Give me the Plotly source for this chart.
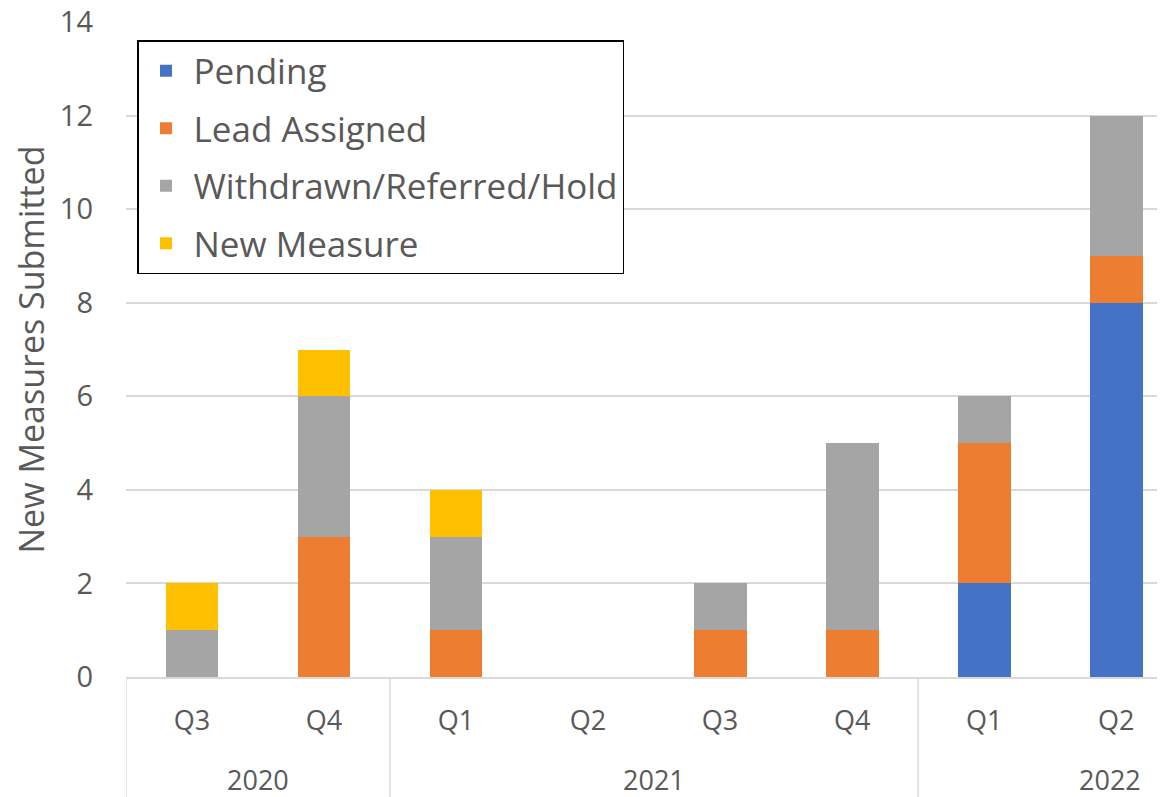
import plotly.graph_objects as go

quarters = ["Q3", "Q4", "Q1", "Q2", "Q3", "Q4", "Q1", "Q2"]
years = ["2020", "2021", "2022"]
year_pos = [0.5, 3.5, 6.95]
dividers = [-0.5, 1.5, 5.5]

pending = [0, 0, 0, 0, 0, 0, 2, 8]
lead_assigned = [0, 3, 1, 0, 1, 1, 3, 1]
withdrawn = [1, 3, 2, 0, 1, 4, 1, 3]
new_measure = [1, 1, 1, 0, 0, 0, 0, 0]

series = [
    ("Pending", pending, "#4472C4"),
    ("Lead Assigned", lead_assigned, "#ED7D31"),
    ("Withdrawn/Referred/Hold", withdrawn, "#A5A5A5"),
    ("New Measure", new_measure, "#FFC000"),
]

x = list(range(len(quarters)))
FONT = "Open Sans"
GRAY = "#595959"
LINE = "#D9D9D9"

fig = go.Figure()
for name, vals, color in series:
    fig.add_trace(go.Bar(x=x, y=vals, name=name, marker_color=color,
                         marker_line_width=0, width=0.4, legendgroup=name))

shapes = []
for d in dividers:
    shapes.append(dict(type="line", xref="x", yref="paper", x0=d, x1=d,
                       y0=0, y1=-0.19, line=dict(color=LINE, width=1.5)))

annotations = []
for yr, p in zip(years, year_pos):
    annotations.append(dict(text=yr, x=p, xref="x", y=-0.157, yref="paper",
                            showarrow=False, yanchor="middle", xanchor="center",
                            font=dict(family=FONT, size=27, color=GRAY)))

fig.update_layout(
    width=1157, height=789,
    margin=dict(l=118, r=0, t=14, b=120, autoexpand=False),
    barmode="stack",
    plot_bgcolor="white", paper_bgcolor="white",
    font=dict(family=FONT, color=GRAY),
    shapes=shapes,
    annotations=annotations,
    legend=dict(x=0.0106, y=0.9725, xanchor="left", yanchor="top",
                bordercolor="black", borderwidth=1.5, bgcolor="white",
                traceorder="grouped", tracegroupgap=9, itemwidth=45,
                font=dict(family=FONT, size=35, color=GRAY)),
    showlegend=True,
)
fig.update_xaxes(range=[-0.5, 7.37], tickmode="array", tickvals=x, ticktext=quarters,
                 tickfont=dict(family=FONT, size=27, color=GRAY),
                 showgrid=False, showline=True, linecolor=LINE, linewidth=1.5,
                 ticks="", ticklabelstandoff=19, zeroline=False)
fig.update_yaxes(range=[0, 14], dtick=2, showgrid=True, gridcolor=LINE, gridwidth=1.5,
                 zeroline=False, ticks="", ticklabelstandoff=32,
                 ticklabeloverflow="allow",
                 tickfont=dict(family=FONT, size=29, color=GRAY),
                 title=dict(text="New Measures Submitted", standoff=10,
                            font=dict(family=FONT, size=34, color=GRAY)))

fig.write_html("out.html")
